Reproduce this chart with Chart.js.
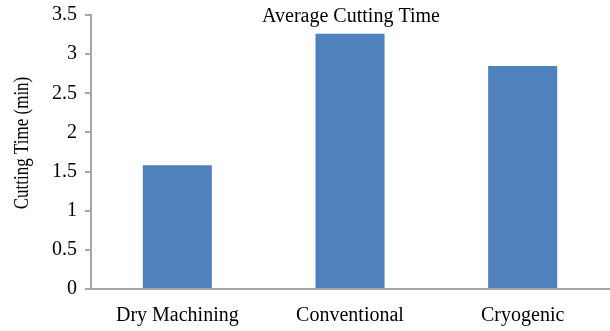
<!DOCTYPE html>
<html>
<head>
<meta charset="utf-8">
<script src="https://cdn.jsdelivr.net/npm/chart.js@4/dist/chart.umd.min.js"></script>
<style>
  html, body { margin: 0; padding: 0; background: #ffffff; }
  #wrap { width: 610px; height: 331px; position: relative; }
</style>
</head>
<body>
<div id="wrap"><canvas id="chart"></canvas></div>
<script>
// Average cutting time per cooling method (minutes)
const categories = ['Dry Machining', 'Conventional', 'Cryogenic'];
const cuttingTime = [1.58, 3.26, 2.85];
const chartTitle = 'Average Cutting Time';
const yAxisTitle = 'Cutting Time (min)';

const FONT = '"Liberation Serif", "Times New Roman", serif';
const AXIS_GREY = '#a6a6a6';

// Title sits inside the plot area, and the y-axis title is drawn by hand
const textPlugin = {
  id: 'chartTexts',
  afterDraw(chart) {
    const { ctx, chartArea } = chart;
    ctx.save();
    ctx.fillStyle = '#000000';
    ctx.textAlign = 'center';
    ctx.textBaseline = 'middle';
    ctx.font = '20px ' + FONT;
    ctx.fillText(chartTitle, (chartArea.left + chartArea.right) / 2 + 1, 17);
    ctx.font = '17px ' + FONT;
    ctx.translate(23, 143);
    ctx.rotate(-Math.PI / 2);
    ctx.scale(1, 1.2);
    ctx.fillText(yAxisTitle, 0, 0);
    ctx.restore();
  }
};

new Chart(document.getElementById('chart'), {
  type: 'bar',
  data: {
    labels: categories,
    datasets: [{
      data: cuttingTime,
      backgroundColor: '#4f81bd',
      borderWidth: 0,
      categoryPercentage: 1.0,
      barPercentage: 0.4
    }]
  },
  options: {
    responsive: true,
    maintainAspectRatio: false,
    animation: false,
    layout: { padding: { top: 0, right: 1, left: 0, bottom: 0 } },
    plugins: {
      legend: { display: false },
      title: { display: false },
      tooltip: { enabled: false }
    },
    scales: {
      x: {
        grid: { display: false, drawTicks: false },
        border: { display: true, color: AXIS_GREY, width: 2 },
        ticks: {
          color: '#000000',
          font: { family: FONT, size: 20 },
          padding: 15,
          maxRotation: 0
        },
        afterFit(scale) { scale.height = 42; }
      },
      y: {
        min: 0,
        max: 3.5,
        grid: {
          drawOnChartArea: false,
          drawTicks: true,
          tickLength: 6,
          color: AXIS_GREY,
          lineWidth: 2
        },
        border: { display: true, color: AXIS_GREY, width: 2 },
        ticks: {
          stepSize: 0.5,
          color: '#000000',
          font: { family: FONT, size: 20 },
          padding: 8,
          callback: (v) => String(Number(v))
        },
        afterFit(scale) {
          scale.width = 91;
          scale.paddingTop = 15;
          scale.paddingBottom = 0;
        }
      }
    }
  },
  plugins: [textPlugin]
});
</script>
</body>
</html>
